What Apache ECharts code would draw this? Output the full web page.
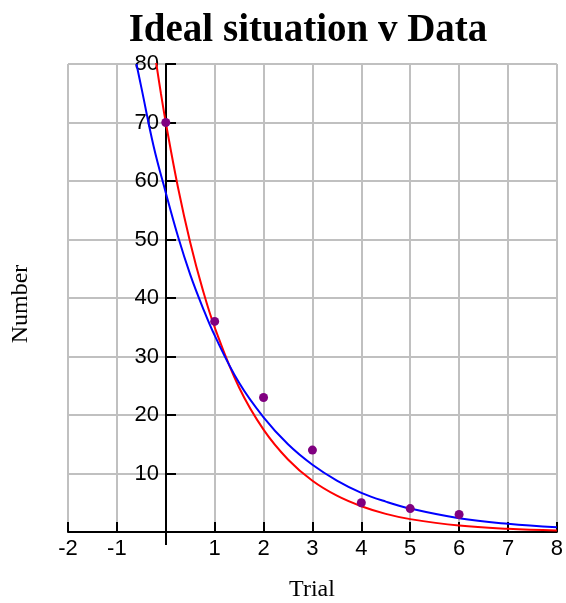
<!DOCTYPE html>
<html>
<head>
<meta charset="utf-8">
<script src="https://cdn.jsdelivr.net/npm/echarts@6/dist/echarts.min.js"></script>
<style>
  html, body { margin: 0; padding: 0; background: #fff; }
  #chart { width: 566px; height: 603px; }
</style>
</head>
<body>
<div id="chart"></div>
<script>
// measured data (trial, number)
const trials = [0, 1, 2, 3, 4, 5, 6];
const counts = [70, 36, 23, 14, 5, 4, 3];

// ideal curve (red)
const idealX = [-0.2, -0.1, 0, 0.25, 0.5, 0.75, 1, 1.5, 2, 2.5, 3, 3.5, 4, 4.5, 5, 6, 7, 8];
const idealY = [80.4, 75, 70, 58.9, 49.5, 41.6, 35, 24.7, 17.5, 12.4, 8.75, 6.2, 4.4, 3.1, 2.2, 1.1, 0.55, 0.27];

// fitted curve (blue)
const fitX = [-0.6, -0.5, -0.25, 0, 0.25, 0.5, 0.75, 1, 1.5, 2, 2.5, 3, 3.5, 4, 4.5, 5, 6, 7, 8];
const fitY = [80, 76, 66, 58, 50.5, 44, 38.5, 33.6, 25.5, 19.6, 15, 11.5, 8.8, 6.7, 5.2, 4, 2.35, 1.4, 0.8];

const zip = (xs, ys) => xs.map((x, i) => [x, ys[i]]);

const chart = echarts.init(document.getElementById('chart'));
chart.setOption({
  animation: false,
  title: {
    text: 'Ideal situation v Data',
    left: 303,
    textAlign: 'center',
    top: 6,
    textStyle: { fontFamily: 'Liberation Serif', fontWeight: 'bold', fontSize: 39, color: '#000' }
  },
  graphic: [
    {
      type: 'text', x: 21, y: 304, rotation: Math.PI / 2,
      style: {
        text: 'Number', fontFamily: 'Liberation Serif', fontSize: 24, fill: '#000',
        align: 'center', verticalAlign: 'middle'
      }
    },
    {
      type: 'text', x: 312, y: 590,
      style: {
        text: 'Trial', fontFamily: 'Liberation Serif', fontSize: 24, fill: '#000',
        align: 'center', verticalAlign: 'middle'
      }
    },
    // small stub of the y axis below the origin
    {
      type: 'line', shape: { x1: 166, y1: 532, x2: 166, y2: 545 },
      style: { stroke: '#000', lineWidth: 2 }
    }
  ],
  grid: { left: 68, right: 9, top: 64, bottom: 71 },
  xAxis: {
    type: 'value', min: -2, max: 8, interval: 1,
    axisLine: { onZero: true, lineStyle: { color: '#000', width: 2 } },
    axisTick: { inside: true, length: 10, lineStyle: { color: '#000', width: 2 } },
    axisLabel: {
      margin: 6, color: '#000', fontFamily: 'Liberation Sans', fontSize: 22,
      formatter: v => (v === 0 ? '' : String(v))
    },
    splitLine: { show: true, lineStyle: { color: '#c0c0c0', width: 2 } }
  },
  yAxis: {
    type: 'value', min: 0, max: 80, interval: 10,
    // y axis sits at x = 0, which is 98px inside the left edge of the grid
    offset: -98,
    axisLine: { onZero: false, lineStyle: { color: '#000', width: 2 } },
    axisTick: { inside: true, length: 10, lineStyle: { color: '#000', width: 2 } },
    axisLabel: {
      margin: 7, color: '#000', fontFamily: 'Liberation Sans', fontSize: 22,
      formatter: v => (v === 0 ? '' : String(v))
    },
    splitLine: { show: true, lineStyle: { color: '#c0c0c0', width: 2 } }
  },
  series: [
    {
      type: 'line', data: zip(idealX, idealY), smooth: 0.4, symbol: 'none',
      lineStyle: { color: '#ff0000', width: 2 }, z: 3
    },
    {
      type: 'line', data: zip(fitX, fitY), smooth: 0.4, symbol: 'none',
      lineStyle: { color: '#0000ff', width: 2 }, z: 3
    },
    {
      type: 'scatter', data: zip(trials, counts), symbolSize: 9,
      itemStyle: { color: '#800080', opacity: 1 }, z: 4
    }
  ]
});
</script>
</body>
</html>
